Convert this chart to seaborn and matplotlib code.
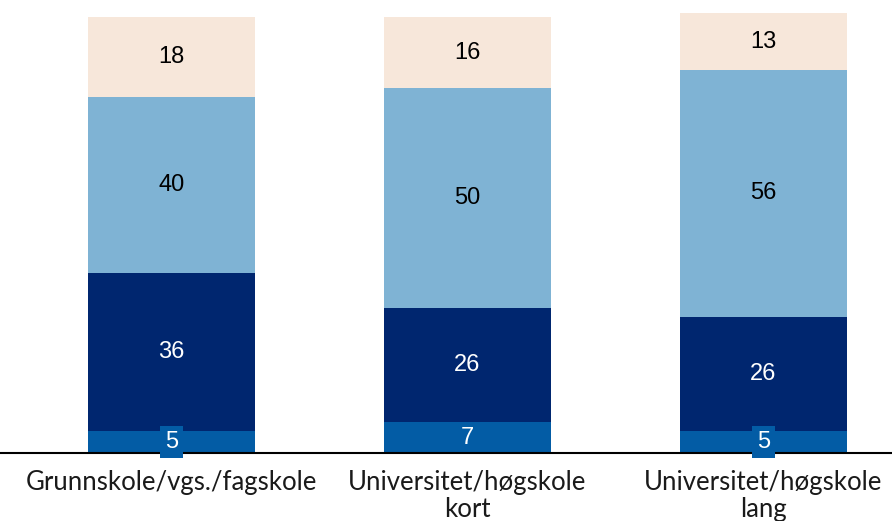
import matplotlib
matplotlib.use("Agg")
import matplotlib.pyplot as plt
import seaborn as sns
import numpy as np
import pandas as pd

sns.set_theme(style="white")
plt.rcParams["font.family"] = ["Liberation Sans", "DejaVu Sans"]

categories = ["Grunnskole/vgs./fagskole", "Universitet/høgskole\nkort", "Universitet/høgskole\nlang"]
seg_a = [5, 7, 5]       # bottom segment
seg_b = [36, 26, 26]
seg_c = [40, 50, 56]
seg_d = [18, 16, 13]    # top segment

series = [seg_a, seg_b, seg_c, seg_d]
colors = ["#035ca5", "#00266f", "#7fb3d4", "#f7e7da"]
text_colors = ["white", "white", "black", "black"]

fig = plt.figure(figsize=(8.92, 5.21), dpi=100)
ax = fig.add_axes([0, 68 / 521, 1, 453 / 521])

bottom = np.zeros(len(categories))
for vals, col, tcol in zip(series, colors, text_colors):
    df = pd.DataFrame({"cat": categories, "val": vals})
    sns.barplot(data=df, x="cat", y="val", color=col, bottom=bottom,
                width=0.564, saturation=1, ax=ax, order=categories,
                linewidth=0, edgecolor="none")
    for i, v in enumerate(vals):
        y = bottom[i] + v / 2
        kw = {}
        if v < 6:
            kw["bbox"] = dict(boxstyle="square,pad=0.2", fc=col, ec="none")
        ax.text(i, y, str(v), ha="center", va="center", color=tcol,
                fontsize=17, **kw)
    bottom = bottom + np.array(vals)

ax.set_xlim(-171.5 / 296, (892 - 171.5) / 296)
ax.set_ylim(0, 453 / 4.40)
ax.set_xlabel("")
ax.set_ylabel("")
ax.set_yticks([])
for s in ["top", "right", "left"]:
    ax.spines[s].set_visible(False)
ax.spines["bottom"].set_color("black")
ax.spines["bottom"].set_linewidth(1.5)
ax.tick_params(axis="x", length=0, pad=12)
ax.set_xticks(range(len(categories)))
ax.set_xticklabels(categories, fontsize=18.5, color="#1a1a1a",
                   family=["Lato", "DejaVu Sans"], linespacing=1.1)

fig.savefig("out.png", dpi=100)
